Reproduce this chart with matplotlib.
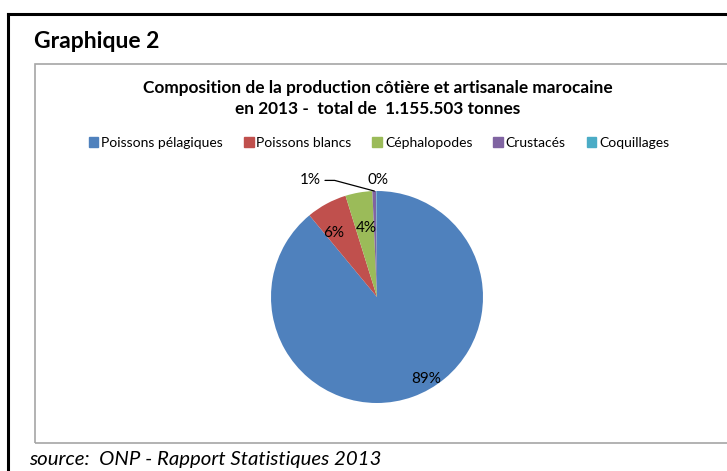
import numpy as np
import matplotlib
matplotlib.use('Agg')
import matplotlib.pyplot as plt
from matplotlib.lines import Line2D
from matplotlib.patches import Rectangle

plt.rcParams['font.family'] = ['Lato', 'DejaVu Sans']

categories = ['Poissons pélagiques', 'Poissons blancs', 'Céphalopodes', 'Crustacés', 'Coquillages']
shares = [89.0, 6.2, 4.1, 0.6, 0.1]
pct_labels = ['89%', '6%', '4%', '1%', '0%']
colors = ['#4F81BD', '#C0504D', '#9BBB59', '#8064A2', '#4BACC6']
# label spots (pie units), roughly where Excel put them
label_pos = [(0.46, -0.77), (-0.41, 0.60), (-0.10, 0.65), (-0.53, 1.10), (0.01, 1.10)]

W, H = 727, 471
fig = plt.figure(figsize=(W / 100, H / 100), dpi=100)

def fx(px):
    return px / W

def fy(py):
    return 1 - py / H

# outer black frame (top and left only visible)
fig.add_artist(Line2D([fx(8), fx(727)], [fy(14), fy(14)], color='black', lw=2.2))
fig.add_artist(Line2D([fx(8), fx(8)], [fy(14), fy(471)], color='black', lw=2.2))

# grey chart area frame, right side runs off the picture
fig.add_artist(Rectangle((fx(35), fy(443)), fx(740) - fx(35), fy(64) - fy(443),
                         transform=fig.transFigure, fill=False, edgecolor='#A6A6A6', lw=1.2))

fig.text(fx(34), fy(42), 'Graphique 2', fontsize=16.5, fontweight='bold', va='center', ha='left')
fig.text(fx(378), fy(88), 'Composition de la production côtière et artisanale marocaine',
         fontsize=12.4, fontweight='bold', ha='center', va='center')
fig.text(fx(378), fy(109), 'en 2013 -  total de  1.155.503 tonnes',
         fontsize=12.4, fontweight='bold', ha='center', va='center')
fig.text(fx(29), fy(459), 'source:  ONP - Rapport Statistiques 2013',
         fontsize=14.7, style='italic', ha='left', va='center')

# pie
cx, cy, r = 377, 297, 106
ax = fig.add_axes([fx(cx - r), fy(cy + r), fx(2 * r), fy(cy - r) - fy(cy + r)])
wedges, _ = ax.pie(shares, colors=colors, startangle=90, counterclock=False,
                   wedgeprops=dict(edgecolor='none'))
ax.set_xlim(-1, 1)
ax.set_ylim(-1, 1)
ax.axis('off')

for i, w in enumerate(wedges):
    lx, ly = label_pos[i]
    if i == 3:
        mid = np.deg2rad((w.theta1 + w.theta2) / 2)
        ax.annotate(pct_labels[i], xy=(np.cos(mid), np.sin(mid)), xytext=(lx, ly),
                    ha='right', va='center', fontsize=11, clip_on=False,
                    arrowprops=dict(arrowstyle='-', color='black', lw=0.9, shrinkA=1, shrinkB=0,
                                    connectionstyle='angle,angleA=0,angleB=-15,rad=0'))
    else:
        ax.text(lx, ly, pct_labels[i], ha='center', va='center', fontsize=11, clip_on=False)

handles = [Rectangle((0, 0), 1, 1, color=c) for c in colors]
fig.legend(handles, categories, loc='center', bbox_to_anchor=(fx(379), fy(143)), ncol=5,
           frameon=False, fontsize=10, handlelength=0.7, handleheight=0.7,
           handletextpad=0.2, columnspacing=1.5)

fig.savefig('out.png', dpi=100)
